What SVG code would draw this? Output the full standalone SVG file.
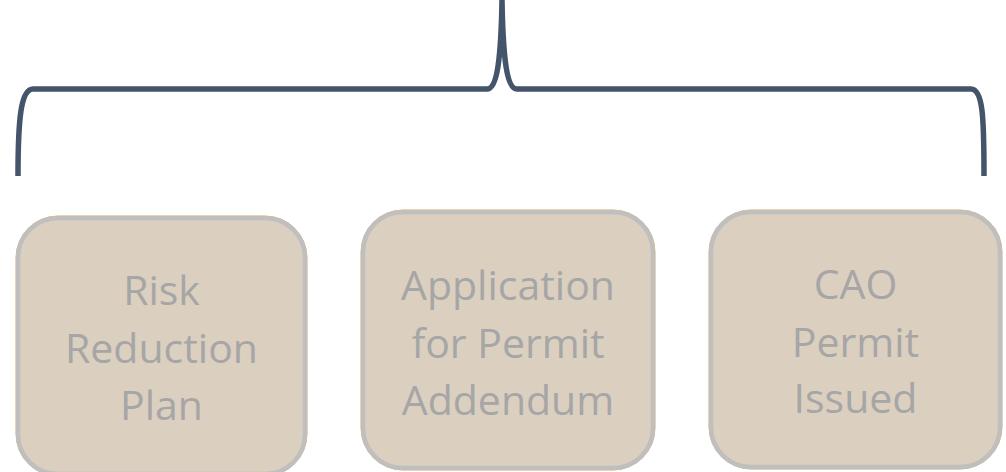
<svg xmlns="http://www.w3.org/2000/svg" width="1006" height="472" viewBox="0 0 1006 472">
  <style>
    .box { fill: #DBCFBF; stroke: #BFBFBF; stroke-width: 4.5; }
    .edge { fill: none; stroke: #F0B45A; stroke-width: 1; }
    .label { font-family: "Open Sans", "Liberation Sans", sans-serif; font-size: 41px; fill: #A6A6A6; text-anchor: middle; }
    .brace { fill: none; stroke: #44546A; stroke-width: 5.5; stroke-linecap: butt; stroke-linejoin: round; }
  </style>
  <rect width="1006" height="472" fill="#FFFFFF"/>

  <!-- curly brace above the three steps -->
  <g id="connectors">
    <path class="brace" d="M18,176 C18,118 21,89 33,89 L487,89 C497,89 501,60 502,0 C503,60 507,89 517,89 L971,89 C983,89 984,118 984,176"/>
  </g>

  <g id="node-risk">
    <rect class="edge" x="16" y="216" width="291" height="260" rx="42"/>
    <rect class="box" x="18" y="218" width="287" height="256" rx="40"/>
    <text class="label" x="161.5" y="305">Risk</text>
    <text class="label" x="161.5" y="362.5">Reduction</text>
    <text class="label" x="161.5" y="420">Plan</text>
  </g>

  <g id="node-application">
    <rect class="edge" x="361" y="210" width="294" height="260" rx="42"/>
    <rect class="box" x="363" y="212" width="290" height="256" rx="40"/>
    <text class="label" x="508" y="300">Application</text>
    <text class="label" x="508" y="357.5">for Permit</text>
    <text class="label" x="508" y="415">Addendum</text>
  </g>

  <g id="node-cao">
    <rect class="edge" x="709" y="210" width="293" height="259" rx="42"/>
    <rect class="box" x="711" y="212" width="289" height="255" rx="40"/>
    <text class="label" x="855.5" y="299">CAO</text>
    <text class="label" x="855.5" y="356.5">Permit</text>
    <text class="label" x="855.5" y="413">Issued</text>
  </g>
</svg>
